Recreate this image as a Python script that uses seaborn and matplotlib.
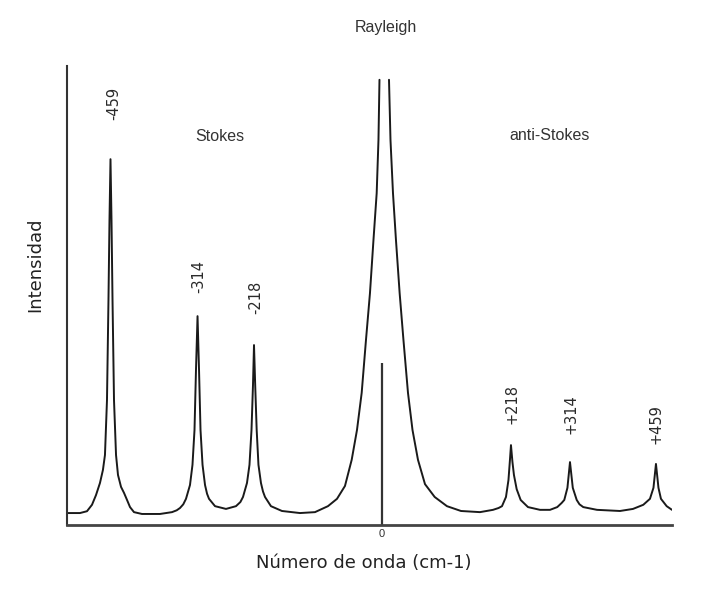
import matplotlib
matplotlib.use("Agg")
import matplotlib.pyplot as plt
import seaborn as sns
import pandas as pd

# Raman spectrum (shift in cm-1, intensity arbitrary 0-100)
# Left segment: Stokes side up to the clipped Rayleigh left flank
shift_left = [-529.4, -507.6, -495.8, -487.4, -480.7, -474.0, -469.0, -465.6, -462.2, -459.7,
              -458.0, -456.3, -454.6, -452.9, -450.4, -447.0, -443.7, -438.6, -433.6, -428.5,
              -423.5, -416.8, -403.4, -373.1, -352.9, -345.0, -339.5, -334.0, -329.4, -322.7,
              -318.5, -315.1, -312.6, -310.0, -307.5, -305.0, -301.6, -297.4, -294.0, -290.7,
              -280.6, -262.2, -245.4, -238.0, -233.6, -226.9, -222.7, -219.3, -216.8, -215.1,
              -213.1, -210.6, -207.6, -203.4, -200.0, -196.6, -186.6, -168.1, -137.8, -112.6,
              -90.8, -75.6, -62.2, -50.9, -42.0, -34.1, -26.9, -20.2, -14.3, -8.9,
              -5.9, -4.2]
intensity_left = [2.6, 2.6, 3.0, 4.4, 6.5, 9.15, 12.0, 15.25, 27.2, 49.0,
                  66.4, 79.7, 66.4, 49.0, 27.2, 15.25, 10.9, 8.3, 7.0, 5.45,
                  3.9, 2.8, 2.4, 2.4, 2.8, 3.2, 3.7, 4.5, 5.7, 8.7,
                  13.1, 20.7, 33.8, 45.5, 33.8, 20.7, 13.1, 8.7, 6.8, 5.7,
                  4.1, 3.5, 4.1, 5.0, 6.1, 9.15, 13.1, 20.7, 30.5, 39.2,
                  30.5, 20.7, 13.1, 9.15, 7.3, 6.1, 4.1, 3.05, 2.6, 2.8,
                  4.1, 5.7, 8.5, 14.2, 20.7, 28.8, 40.3, 50.5, 62.1, 72.3,
                  83.9, 97.0]
# Right segment: from the clipped Rayleigh right flank through the anti-Stokes side
shift_right = [11.8, 14.3, 18.5, 23.5, 29.7, 36.1, 43.7, 51.3, 60.5, 72.3,
               88.6, 109.2, 132.8, 164.7, 186.6, 196.0, 201.7, 208.4, 212.6, 215.1,
               216.8, 219.3, 221.8, 226.4, 233.1, 245.4, 265.6, 282.4, 294.6, 302.0,
               306.4, 311.7, 316.0, 320.7, 327.3, 332.0, 338.3, 361.4, 400.0, 421.9,
               439.2, 450.4, 456.3, 460.5, 464.7, 468.9, 478.5, 487.4]
intensity_right = [97.0, 83.9, 72.3, 62.1, 50.5, 40.3, 28.8, 20.7, 14.2, 8.9,
                   6.1, 4.1, 3.05, 2.8, 3.3, 3.7, 4.1, 6.1, 9.8, 14.2,
                   17.4, 13.7, 10.9, 7.8, 5.45, 3.9, 3.3, 3.3, 3.9, 4.8,
                   5.45, 8.1, 13.7, 8.1, 5.45, 4.5, 3.9, 3.3, 3.05, 3.5,
                   4.4, 5.7, 8.1, 13.3, 8.1, 5.7, 4.1, 3.3]

peak_labels = ["-459", "-314", "-218", "+218", "+314", "+459"]
peak_label_x = [-450.9, -307.6, -212.6, 219.3, 318.5, 461.4]
peak_label_y = [91.9, 54.2, 49.5, 26.4, 24.2, 21.9]
zero_marker_height = 35.3

df = pd.DataFrame({
    "shift": shift_left + shift_right,
    "intensity": intensity_left + intensity_right,
    "segment": ["left"] * len(shift_left) + ["right"] * len(shift_right),
})

sns.set_theme(style="white")
plt.rcParams["font.family"] = ["DejaVu Sans"]

fig = plt.figure(figsize=(7.22, 5.91), dpi=100)
ax = fig.add_axes([0.0928, 0.1117, 0.8379, 0.7766])

sns.lineplot(data=df, x="shift", y="intensity", units="segment", estimator=None,
             sort=False, color="#1a1a1a", linewidth=1.4, ax=ax)
ax.vlines(0, 0, zero_marker_height, color="#333333", linewidth=1.6)

ax.set_xlim(-529.4, 487.4)
ax.set_ylim(0, 100)
for s in ["top", "right"]:
    ax.spines[s].set_visible(False)
ax.spines["left"].set_color("#333333")
ax.spines["left"].set_linewidth(1.5)
ax.spines["bottom"].set_color("#444444")
ax.spines["bottom"].set_linewidth(2.0)

ax.set_xticks([0])
ax.set_xticklabels(["0"], family=["Liberation Sans"])
ax.set_yticks([])
ax.tick_params(axis="x", length=0, pad=3, labelsize=8, labelcolor="#333333")

ax.set_xlabel("Número de onda (cm-1)", fontsize=13, color="#222222", va="center")
ax.xaxis.set_label_coords(0.491, -0.0828)
ax.set_ylabel("Intensidad", fontsize=13, color="#222222", va="center")
ax.yaxis.set_label_coords(-0.0529, 0.566)

txt = dict(family=["Liberation Sans"], color="#333333", ha="center", va="center", clip_on=False)
ax.text(6.7, 108.4, "Rayleigh", fontsize=11.5, **txt)
ax.text(-272.6, 84.7, "Stokes", fontsize=11.5, **txt)
ax.text(282.4, 84.9, "anti-Stokes", fontsize=11.5, **txt)
ptxt = dict(family=["DejaVu Sans"], color="#2a2a2a", ha="center", va="center", clip_on=False)
for lab, lx, ly in zip(peak_labels, peak_label_x, peak_label_y):
    ax.text(lx, ly, lab, fontsize=10.5, rotation=90, **ptxt)

fig.savefig("out.png", dpi=100, facecolor="white")
